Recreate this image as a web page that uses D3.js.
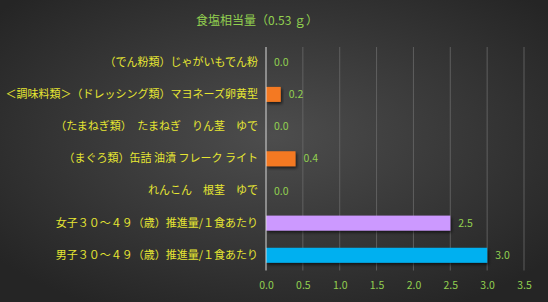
<!DOCTYPE html>
<html>
<head>
<meta charset="utf-8">
<script src="https://cdn.jsdelivr.net/npm/d3@7"></script>
<style>
  body { margin: 0; background: #333; }
  svg { display: block; font-family: "Noto Sans CJK JP", sans-serif; }
</style>
</head>
<body>
<div id="wrapper"></div>
<script>
const categories = [
  '（でん粉類）じゃがいもでん粉',
  '＜調味料類＞（ドレッシング類）マヨネーズ卵黄型',
  '（たまねぎ類）　たまねぎ　りん茎　ゆで',
  '（まぐろ類）缶詰 油漬 フレーク ライト',
  'れんこん　根茎　ゆで',
  '女子３０～４９（歳）推進量/１食あたり',
  '男子３０～４９（歳）推進量/１食あたり'
];
const values = [0, 0.2, 0, 0.4, 0, 2.5, 3.0];
const barColors = ['#f47920', '#f47920', '#f47920', '#f47920', '#f47920', '#cc99ff', '#00b0f0'];
const xTicks = [0, 0.5, 1.0, 1.5, 2.0, 2.5, 3.0, 3.5];
const title = '食塩相当量（0.53 ｇ）';

function drawBarChart() {
  let dimensions = {
    width: 548,
    height: 302,
    margins: { top: 47, right: 24, bottom: 31.5, left: 266 }
  };
  dimensions.boundedWidth = dimensions.width - dimensions.margins.left - dimensions.margins.right;
  dimensions.boundedHeight = dimensions.height - dimensions.margins.top - dimensions.margins.bottom;

  const wrapper = d3.select('#wrapper')
    .append('svg')
      .attr('width', dimensions.width)
      .attr('height', dimensions.height);

  const defs = wrapper.append('defs');
  const bg = defs.append('radialGradient')
      .attr('id', 'bg')
      .attr('cx', '50%').attr('cy', '45%').attr('r', '65%');
  bg.append('stop').attr('offset', '0%').attr('stop-color', '#4d4d4d');
  bg.append('stop').attr('offset', '100%').attr('stop-color', '#252525');

  const shadow = defs.append('filter').attr('id', 'shadow')
      .attr('x', '-10%').attr('y', '-30%').attr('width', '130%').attr('height', '180%');
  shadow.append('feDropShadow')
      .attr('dx', 1.5).attr('dy', 2).attr('stdDeviation', 1.5)
      .attr('flood-color', '#000').attr('flood-opacity', 0.6);

  wrapper.append('rect')
      .attr('width', dimensions.width)
      .attr('height', dimensions.height)
      .attr('fill', 'url(#bg)');

  wrapper.append('text')
      .attr('x', 257)
      .attr('y', 25)
      .attr('text-anchor', 'middle')
      .attr('fill', '#92d050')
      .style('font-size', '12px')
      .text(title);

  const bounds = wrapper.append('g')
      .attr('transform', `translate(${dimensions.margins.left},${dimensions.margins.top})`);

  const xScale = d3.scaleLinear()
    .domain([0, 3.5])
    .range([0, 258]);

  const yScale = d3.scaleBand()
    .domain(categories)
    .range([0, dimensions.boundedHeight])
    .paddingInner(0.534)
    .paddingOuter(0.24);

  // gridlines
  bounds.append('g')
    .selectAll('line')
    .data(xTicks.slice(1))
    .join('line')
      .attr('x1', d => xScale(d))
      .attr('x2', d => xScale(d))
      .attr('y1', 0)
      .attr('y2', dimensions.boundedHeight)
      .attr('stroke', '#6a6a6a')
      .attr('stroke-width', 0.8);

  bounds.selectAll('.bar')
    .data(values)
    .join('rect')
      .attr('class', 'bar')
      .attr('x', 0)
      .attr('y', (d, i) => yScale(categories[i]))
      .attr('width', d => xScale(d))
      .attr('height', yScale.bandwidth())
      .attr('fill', (d, i) => barColors[i])
      .attr('filter', 'url(#shadow)');

  // axis line at zero
  bounds.append('line')
      .attr('x1', xScale(0)).attr('x2', xScale(0))
      .attr('y1', 0).attr('y2', dimensions.boundedHeight)
      .attr('stroke', '#d9d9d9')
      .attr('stroke-width', 1);

  bounds.selectAll('.value')
    .data(values)
    .join('text')
      .attr('class', 'value')
      .attr('x', d => xScale(d) + 8)
      .attr('y', (d, i) => yScale(categories[i]) + yScale.bandwidth() / 2)
      .attr('dy', '0.35em')
      .attr('fill', '#92d050')
      .style('font-size', '10.5px')
      .text(d => d.toFixed(1));

  const yAxisGenerator = d3.axisLeft(yScale).tickSize(0).tickPadding(8);
  const yAxis = bounds.append('g')
      .attr('class', 'y-axis')
      .call(yAxisGenerator);
  yAxis.select('.domain').remove();
  yAxis.selectAll('text')
      .attr('fill', '#e6e632')
      .style('font-size', '11px')
      .style('font-family', '"Noto Sans CJK JP", sans-serif');

  const xAxisGenerator = d3.axisBottom(xScale)
      .tickValues(xTicks)
      .tickSize(0)
      .tickPadding(11)
      .tickFormat(d3.format('.1f'));
  const xAxis = bounds.append('g')
      .attr('class', 'x-axis')
      .attr('transform', `translate(0,${dimensions.boundedHeight})`)
      .call(xAxisGenerator);
  xAxis.select('.domain').remove();
  xAxis.selectAll('text')
      .attr('fill', '#92d050')
      .style('font-size', '10.5px')
      .style('font-family', '"Noto Sans CJK JP", sans-serif');
}

drawBarChart();
</script>
</body>
</html>
